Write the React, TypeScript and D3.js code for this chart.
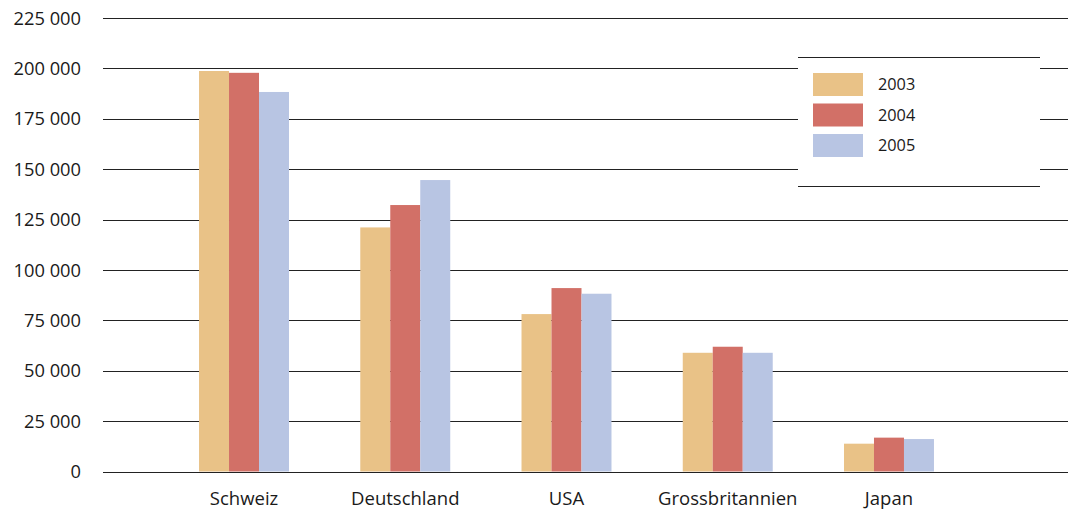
import React from "react";
import * as d3 from "d3";

const categories = ["Schweiz", "Deutschland", "USA", "Grossbritannien", "Japan"];
const years = ["2003", "2004", "2005"];
const values2003 = [198700, 121100, 78100, 58900, 13800];
const values2004 = [197800, 132200, 91000, 61900, 16800];
const values2005 = [188300, 144600, 88200, 58900, 16100];
const yTicks = [0, 25000, 50000, 75000, 100000, 125000, 150000, 175000, 200000, 225000];
const colors = ["#E9C287", "#D27067", "#B8C5E3"];

const W = 1083;
const H = 512;
const FONT = "'Open Sans', 'Noto Sans', sans-serif";

export default function App() {
  const series = [values2003, values2004, values2005];
  const y = d3.scaleLinear().domain([0, 225000]).range([471.5, 18]);
  const x0 = d3
    .scaleBand<string>()
    .domain(categories)
    .range([163.4, 969.6])
    .paddingInner(0.442)
    .paddingOuter(0.221);
  const x1 = d3.scaleBand<string>().domain(years).range([0, x0.bandwidth()]);
  const fmt = (v: number) => d3.format(",")(v).replace(/,/g, " ");

  const legend = { x: 798, y: 57, w: 242, h: 129 };

  return (
    <svg
      width={W}
      height={H}
      style={{ position: "absolute", left: 0, top: 0, background: "#fff" }}
      fontFamily={FONT}
    >
      {yTicks.map((t) => (
        <g key={t}>
          <line x1={103} x2={1068} y1={Math.round(y(t)) + 0.5} y2={Math.round(y(t)) + 0.5} stroke="#222" strokeWidth={1} />
          <text x={81} y={y(t)} dy="0.36em" textAnchor="end" fontSize={18.3} fill="#1a1a1a">
            {fmt(t)}
          </text>
        </g>
      ))}
      {categories.map((c, i) => (
        <g key={c} transform={`translate(${x0(c)},0)`}>
          {years.map((yr, j) => (
            <rect
              key={yr}
              x={x1(yr)}
              y={y(series[j][i])}
              width={x1.bandwidth()}
              height={y(0) - y(series[j][i])}
              fill={colors[j]}
            />
          ))}
          <text x={x0.bandwidth() / 2} y={505} textAnchor="middle" fontSize={18.5} fill="#1a1a1a">
            {c}
          </text>
        </g>
      ))}
      <line x1={103} x2={1068} y1={Math.round(y(0)) + 0.5} y2={Math.round(y(0)) + 0.5} stroke="#222" strokeWidth={1} />
      <g>
        <rect x={legend.x} y={legend.y} width={legend.w} height={legend.h} fill="#fff" />
        <line x1={legend.x} x2={legend.x + legend.w} y1={legend.y + 0.5} y2={legend.y + 0.5} stroke="#222" />
        <line x1={legend.x} x2={legend.x + legend.w} y1={legend.y + legend.h + 0.5} y2={legend.y + legend.h + 0.5} stroke="#222" />
        {years.map((yr, j) => (
          <g key={yr}>
            <rect x={813} y={73 + j * 30.5} width={50} height={23} fill={colors[j]} />
            <text x={878} y={84.5 + j * 30.5} dy="0.36em" fontSize={16.3} fill="#1a1a1a">
              {yr}
            </text>
          </g>
        ))}
      </g>
    </svg>
  );
}
